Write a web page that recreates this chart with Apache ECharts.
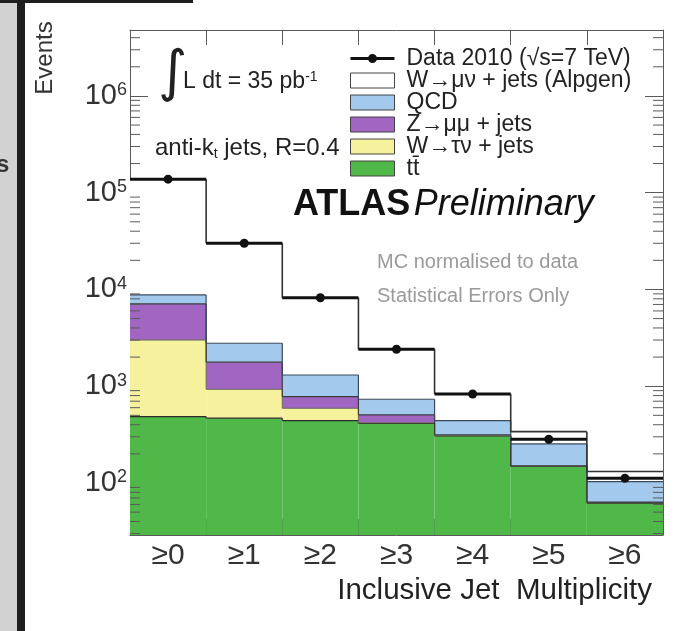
<!DOCTYPE html>
<html><head><meta charset="utf-8">
<script src="https://cdn.jsdelivr.net/npm/echarts@6/dist/echarts.min.js"></script>
<style>html,body{margin:0;padding:0;background:#fff}#c{width:681px;height:631px}</style>
</head><body><div id="c"></div>
<script>
// ---- data ----
const categories = ['≥0', '≥1', '≥2', '≥3', '≥4', '≥5', '≥6'];
const ttbar  = [484, 467, 441, 414, 306, 148, 62];
const wtaunu = [2516, 462, 151, 4, 2, 1, 0.5];
const zmumu  = [4080, 841, 188, 87, 7, 1, 1];
const qcd    = [1690, 1010, 526, 228, 126, 103, 40];
const wmunu  = [129230, 27220, 6894, 1677, 391, 86, 28];
const dataPts = [138000, 30000, 8200, 2410, 832, 283, 112];
const yMin = 29, yMax = 4.8e6;
const minorMultipliers = [2, 3, 4, 5, 6, 7, 8, 9];
const decades = [10, 100, 1000, 10000, 100000, 1000000];

const names = {
  data: 'Data 2010 (√s=7 TeV)',
  wmunu: 'W→μν + jets (Alpgen)',
  qcd: 'QCD',
  zmumu: 'Z→μμ + jets',
  wtaunu: 'W→τν + jets',
  ttbar: 't\u0074\u0304'
};
const colors = { wmunu: '#ffffff', qcd: '#a3c9ec', zmumu: '#a166c1', wtaunu: '#f6f19d', ttbar: '#50b848' };
const FONT = 'Liberation Sans, Arial, Helvetica, sans-serif';

// cumulative stacks for outlines
function add(a, b) { return a.map((v, i) => v + b[i]); }
const c1 = ttbar.slice();
const c2 = add(c1, wtaunu);
const c3 = add(c2, zmumu);
const c4 = add(c3, qcd);
const c5 = add(c4, wmunu);

const minorTicks = [];
decades.forEach(d => minorMultipliers.forEach(m => { const v = d * m; if (v > yMin && v < yMax) minorTicks.push([0, v]); }));

function barSeries(key, vals) {
  return { name: names[key], type: 'bar', stack: 'mc', data: vals, barWidth: '100%', barCategoryGap: '0%',
    itemStyle: { color: colors[key] }, silent: true, z: 2, clip: true };
}
function outline(cum, color, width) {
  return {
    type: 'custom', silent: true, z: 3, clip: true,
    data: cum.map((v, i) => [i, v, i < cum.length - 1 ? cum[i + 1] : -1]),
    encode: { x: 0, y: 1 },
    renderItem(params, api) {
      const i = api.value(0), v = api.value(1), nv = api.value(2);
      const c = api.coord([i, v]);
      const w = api.size([1, 0])[0];
      const x0 = c[0] - w / 2, x1 = c[0] + w / 2;
      const ch = [{ type: 'line', shape: { x1: x0, y1: c[1], x2: x1, y2: c[1] }, style: { stroke: color, lineWidth: width } }];
      if (nv > 0) {
        const c2p = api.coord([i + 1, nv]);
        ch.push({ type: 'line', shape: { x1: x1, y1: c[1], x2: x1, y2: c2p[1] }, style: { stroke: color, lineWidth: width } });
      }
      return { type: 'group', children: ch };
    }
  };
}

const chart = echarts.init(document.getElementById('c'), null, { renderer: 'canvas' });
const axisGray = '#5a5a5a';
const option = {
  animation: false,
  backgroundColor: '#ffffff',
  grid: { left: 130, right: 18, top: 30, bottom: 96, show: false },
  xAxis: [
    { type: 'category', data: categories, boundaryGap: true, position: 'bottom',
      axisLine: { show: true, lineStyle: { color: axisGray, width: 1 } },
      axisTick: { show: true, inside: true, length: 16, lineStyle: { color: axisGray, width: 1 } },
      axisLabel: { color: '#333', fontSize: 30, fontFamily: FONT, margin: 6 },
      splitLine: { show: false } },
    { type: 'category', data: categories, boundaryGap: true, position: 'top',
      axisLine: { show: true, lineStyle: { color: axisGray, width: 1 } },
      axisTick: { show: true, inside: true, length: 15, lineStyle: { color: axisGray, width: 1 } },
      axisLabel: { show: false }, splitLine: { show: false } }
  ],
  yAxis: [
    { type: 'log', logBase: 10, min: yMin, max: yMax, position: 'left',
      axisLine: { show: true, lineStyle: { color: axisGray, width: 1 } },
      axisTick: { show: true, inside: true, length: 18, lineStyle: { color: axisGray, width: 1 } },
      splitLine: { show: false },
      axisLabel: {
        margin: 3, color: '#333', fontSize: 29, fontFamily: FONT,
        showMinLabel: false, showMaxLabel: false,
        formatter: v => { const l = Math.log10(v); const p = Math.round(l); if (Math.abs(l - p) > 1e-6) return ''; return '10{s|' + p + '}'; },
        rich: { s: { fontSize: 18, fontFamily: FONT, color: '#333', verticalAlign: 'top', padding: [0, 0, 6, 0] } }
      } },
    { type: 'log', logBase: 10, min: yMin, max: yMax, position: 'right',
      axisLine: { show: true, lineStyle: { color: axisGray, width: 1 } },
      axisTick: { show: true, inside: true, length: 18, lineStyle: { color: axisGray, width: 1 } },
      axisLabel: { show: false }, splitLine: { show: false } }
  ],
  legend: {
    orient: 'vertical', left: 350, top: 47, padding: 0, itemWidth: 44, itemHeight: 15, itemGap: -1,
    selectedMode: false, icon: 'rect',
    textStyle: { fontSize: 23, color: '#222', fontFamily: FONT, padding: [0, 0, 0, 7] },
    itemStyle: { borderColor: '#444', borderWidth: 1 },
    data: [
      { name: names.data, icon: 'path://M0,6 L44,6 L44,9 L0,9 Z M26.5,7.5 A4.5,4.5 0 1,1 17.5,7.5 A4.5,4.5 0 1,1 26.5,7.5 Z', itemStyle: { color: '#111', borderWidth: 0 } },
      { name: names.wmunu }, { name: names.qcd }, { name: names.zmumu }, { name: names.wtaunu }, { name: names.ttbar }
    ]
  },
  series: [
    barSeries('ttbar', ttbar),
    barSeries('wtaunu', wtaunu),
    barSeries('zmumu', zmumu),
    barSeries('qcd', qcd),
    barSeries('wmunu', wmunu),
    outline(c1, '#2a2a2a', 1.2),
    outline(c2, '#6b6b5a', 1),
    outline(c3, '#3a3a3a', 1.2),
    outline(c4, '#3a4a5a', 1.2),
    outline(c5, '#333333', 1.6),
    {
      name: names.data, type: 'custom', z: 5, clip: true, silent: true,
      itemStyle: { color: '#111' },
      data: dataPts.map((v, i) => [i, v]), encode: { x: 0, y: 1 },
      renderItem(params, api) {
        const c = api.coord([api.value(0), api.value(1)]);
        const w = api.size([1, 0])[0];
        return { type: 'group', children: [
          { type: 'line', shape: { x1: c[0] - w / 2, y1: c[1], x2: c[0] + w / 2, y2: c[1] }, style: { stroke: '#111', lineWidth: 3 } },
          { type: 'circle', shape: { cx: c[0], cy: c[1], r: 4.5 }, style: { fill: '#111' } }
        ] };
      }
    },
    {
      type: 'custom', z: 6, silent: true, clip: false,
      data: minorTicks, encode: { x: 0, y: 1 },
      renderItem(params, api) {
        const y = api.coord([0, api.value(1)])[1];
        const cs = params.coordSys;
        const st = { stroke: axisGray, lineWidth: 1 };
        return { type: 'group', children: [
          { type: 'line', shape: { x1: cs.x, y1: y, x2: cs.x + 10, y2: y }, style: st },
          { type: 'line', shape: { x1: cs.x + cs.width - 10, y1: y, x2: cs.x + cs.width, y2: y }, style: st }
        ] };
      }
    }
  ],
  graphic: [
    { type: 'rect', left: 0, top: 0, shape: { width: 17, height: 631 }, style: { fill: '#d2d2d2' }, silent: true },
    { type: 'rect', left: 17, top: 0, shape: { width: 8, height: 631 }, style: { fill: '#1e1e1e' }, silent: true },
    { type: 'rect', left: 0, top: 0, shape: { width: 193, height: 3 }, style: { fill: '#1e1e1e' }, silent: true },
    { type: 'text', x: -4, y: 165, style: { text: 's', font: 'bold 24px ' + FONT, fill: '#333', verticalAlign: 'middle' }, silent: true },
    { type: 'text', x: 45, y: 58, rotation: Math.PI / 2, style: { text: 'Events', font: '24px ' + FONT, fill: '#333', align: 'center', verticalAlign: 'middle' }, silent: true },
    { type: 'text', x: 158, y: 75, style: { text: '∫', font: '56px DejaVu Sans', fill: '#222', verticalAlign: 'middle' }, silent: true },
    { type: 'text', x: 183, y: 82, style: { text: 'L dt = 35 pb{s|-1}', font: '23px ' + FONT, fill: '#222', verticalAlign: 'middle',
        rich: { s: { fontSize: 14, fontFamily: FONT, fill: '#222', verticalAlign: 'top' } } }, silent: true },
    { type: 'text', x: 155, y: 148, style: { text: 'anti-k{t|t} jets, R=0.4', font: '24px ' + FONT, fill: '#222', verticalAlign: 'middle',
        rich: { t: { fontSize: 14, fontFamily: FONT, fill: '#222', verticalAlign: 'bottom', padding: [12, 0, 0, 0] } } }, silent: true },
    { type: 'text', x: 293, y: 205, style: { text: '{a|ATLAS} {b|Preliminary}', fill: '#111', verticalAlign: 'middle',
        rich: { a: { font: 'bold 36px ' + FONT, fill: '#111' }, b: { font: 'italic 36px ' + FONT, fill: '#111' } } }, silent: true },
    { type: 'text', x: 377, y: 262, style: { text: 'MC normalised to data', font: '20px ' + FONT, fill: '#9a9a9a', verticalAlign: 'middle' }, silent: true },
    { type: 'text', x: 377, y: 296, style: { text: 'Statistical Errors Only', font: '20px ' + FONT, fill: '#9a9a9a', verticalAlign: 'middle' }, silent: true },
    { type: 'text', x: 652, y: 591, style: { text: 'Inclusive Jet  Multiplicity', font: '29.5px ' + FONT, fill: '#222', align: 'right', verticalAlign: 'middle' }, silent: true }
  ]
};
chart.setOption(option);
</script>
</body></html>
